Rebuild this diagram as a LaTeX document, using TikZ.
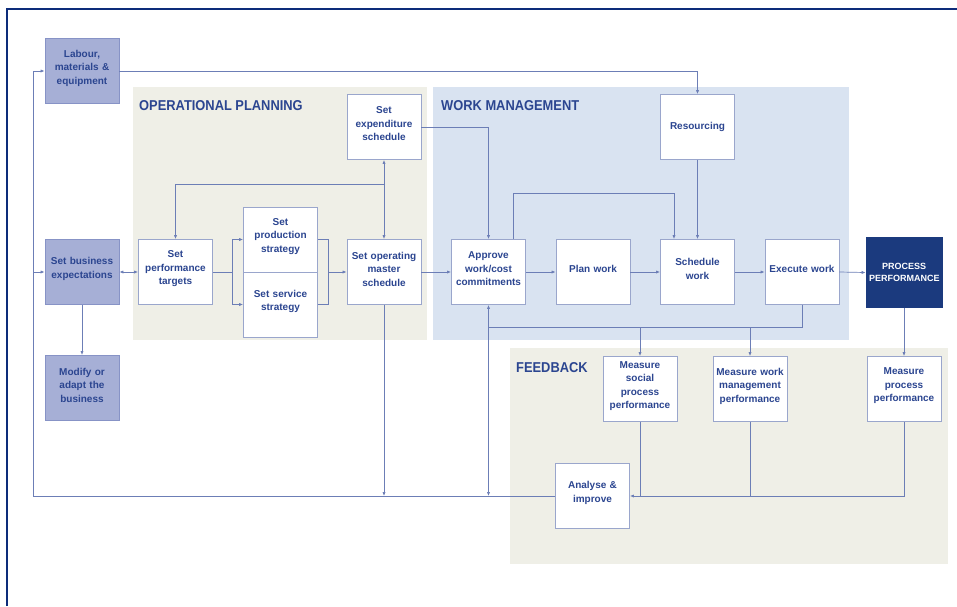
\documentclass[tikz,border=0pt]{standalone}
\usepackage{fontspec}
\setmainfont{Liberation Sans}
\newfontfamily\headfont[FakeStretch=0.9]{Liberation Sans}
\usetikzlibrary{arrows.meta}
\definecolor{framenavy}{HTML}{0D2C7A}
\definecolor{txtblue}{HTML}{2B4590}
\definecolor{lnblue}{HTML}{6C7EB6}
\definecolor{inputfill}{HTML}{A6AFD6}
\definecolor{inputedge}{HTML}{8793C6}
\definecolor{boxedge}{HTML}{9AA6CC}
\definecolor{opfill}{HTML}{EFEFE7}
\definecolor{wmfill}{HTML}{D9E3F1}
\definecolor{outfill}{HTML}{1B3A7E}
\newcommand{\boxpad}{\endgraf\vspace*{6pt}}

\begin{document}
\begin{tikzpicture}[x=1pt,y=-1pt,
    boxbase/.style={draw=boxedge,fill=white,line width=0.8pt,minimum width=74pt,minimum height=65pt,
      text width=70pt,align=center,inner sep=2pt,text=txtblue,font=\bfseries\fontsize{10}{13.5}\selectfont},
    box/.style={boxbase,execute at end node=\boxpad},
    inputbox/.style={box,fill=inputfill,draw=inputedge},
    outbox/.style={boxbase,fill=outfill,draw=outfill,text=white,minimum width=76pt,minimum height=70pt,
      font=\bfseries\fontsize{9}{11.5}\selectfont},
    heading/.style={anchor=base west,inner sep=0pt,text=txtblue,font=\headfont\bfseries\fontsize{14.3}{16}\selectfont},
    link/.style={draw=lnblue,line width=0.7pt},
    arr/.style={link,-{Latex[length=4pt,width=3.2pt]}},
    arrboth/.style={link,{Latex[length=4pt,width=3.2pt]}-{Latex[length=4pt,width=3.2pt]}},
    frame/.style={draw=framenavy,line width=2.5pt}]
\useasboundingbox (0,0) rectangle (957,606);

\fill[opfill] (133,87) rectangle (427,340);
\fill[wmfill] (433,87) rectangle (849,340);
\fill[opfill] (510,348) rectangle (948,564);
\draw[frame] (7,606) -- (7,9) -- (957,9);

\node[heading] (ophead) at (139,110) {OPERATIONAL PLANNING};
\node[heading] (wmhead) at (441,110) {WORK MANAGEMENT};
\node[heading] (fbhead) at (516,372) {FEEDBACK};

\node[inputbox] (labour) at (82,71) {Labour,\\materials \&\\equipment};
\node[inputbox] (business) at (82,272) {Set business\\expectations};
\node[inputbox] (modify) at (82,388) {Modify or\\adapt the\\business};

\node[box] (perf) at (175.5,272) {Set\\performance\\targets};
\node[box] (prod) at (280.5,239.5) {Set\\production\\strategy};
\node[box] (serv) at (280.5,304.5) {Set service\\strategy};
\node[box] (expend) at (384,127) {Set\\expenditure\\schedule};
\node[box] (master) at (384,272) {Set operating\\master\\schedule};

\node[box] (approve) at (488.5,272) {Approve\\work/cost\\commitments};
\node[box] (plan) at (593,272) {Plan work};
\node[boxbase] (resourcing) at (697.5,127) {Resourcing};
\node[box] (schedule) at (697.5,272) {Schedule\\work};
\node[box] (execute) at (802,272) {Execute work};
\node[outbox] (procperf) at (904,272.5) {PROCESS\\PERFORMANCE};

\node[box] (msocial) at (640,389) {Measure\\social\\process\\performance};
\node[box] (mwork) at (750,389) {Measure work\\management\\performance};
\node[box] (mproc) at (904,389) {Measure\\process\\performance};
\node[box] (analyse) at (592.5,496) {Analyse \&\\improve};

\coordinate (fbl) at (33,496);
\coordinate (split) at (232,272);
\coordinate (merge) at (328,272);
\coordinate (loopr) at (384,184);
\coordinate (fbj) at (488.5,327);

\draw[arr] (labour.east) -| (resourcing.north);
\draw[arr] (analyse.west) -- (fbl) |- (labour.west);
\draw[arr] (fbl |- business) -- (business.west);
\draw[arr] (business.south) -- (modify.north);
\draw[arrboth] (business.east) -- (perf.west);

\draw[link] (perf.east) -- (split);
\draw[arr] (split) |- (prod.west);
\draw[arr] (split) |- (serv.west);
\draw[link] (prod.east) -| (merge);
\draw[link] (serv.east) -| (merge);
\draw[arr] (merge) -- (master.west);

\draw[arr] (loopr) -- (expend.south);
\draw[arr] (loopr) -- (master.north);
\draw[arr] (loopr) -| (perf.north);
\draw[arr] (expend.east) -| (approve.north);

\draw[arr] (master.east) -- (approve.west);
\draw[arr] (approve.east) -- (plan.west);
\draw[arr] (plan.east) -- (schedule.west);
\draw[arr] (schedule.east) -- (execute.west);
\draw[arr] (execute.east) -- (procperf.west);
\draw[arr] ([xshift=24.5pt]approve.north) -- ++(0,-46) -| ([xshift=-23.5pt]schedule.north);
\draw[arr] (resourcing.south) -- (schedule.north);

\draw[link] (execute.south) |- (fbj);
\draw[arr] (fbj) -- (approve.south);
\draw[arr] (fbj) -- (fbj |- analyse);
\draw[arr] (msocial.north |- fbj) -- (msocial.north);
\draw[arr] (mwork.north |- fbj) -- (mwork.north);
\draw[arr] (master.south) -- (master |- analyse);
\draw[arr] (procperf.south) -- (mproc.north);

\draw[link] (msocial.south) -- (msocial |- analyse);
\draw[link] (mwork.south) -- (mwork |- analyse);
\draw[arr] (mproc.south) |- (analyse.east);
\end{tikzpicture}
\end{document}
